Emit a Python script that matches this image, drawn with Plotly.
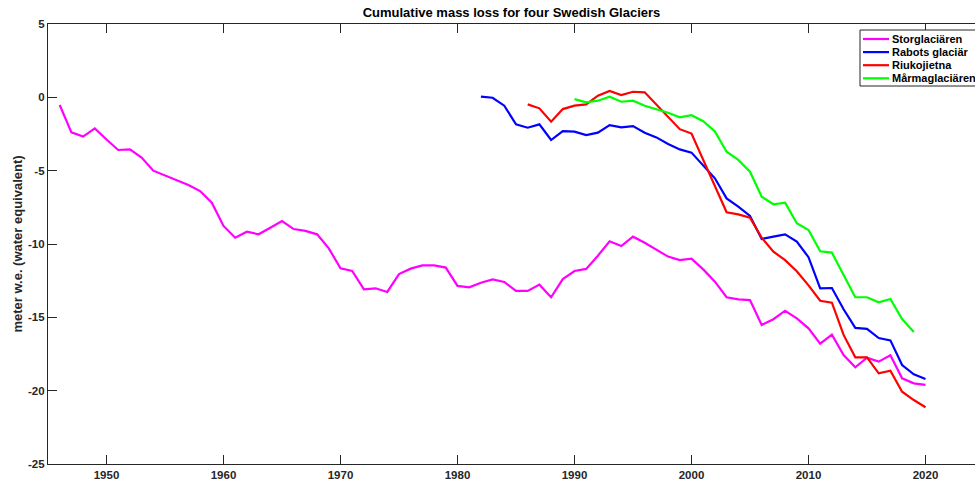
import plotly.graph_objects as go

# Cumulative mass balance (m w.e.) per glacier, by year
stor_years = list(range(1946, 2021))
stor_vals = [
    -0.52, -2.39, -2.68, -2.12, -2.87, -3.59, -3.55, -4.11, -5.00, -5.34,
    -5.64, -5.98, -6.39, -7.18, -8.77, -9.57, -9.16, -9.34, -8.89, -8.43,
    -8.98, -9.11, -9.34, -10.30, -11.66, -11.84, -13.09, -13.02, -13.27, -12.05,
    -11.68, -11.46, -11.46, -11.61, -12.86, -12.95, -12.64, -12.41, -12.59, -13.20,
    -13.20, -12.77, -13.63, -12.39, -11.84, -11.70, -10.80, -9.81, -10.14, -9.50,
    -9.91, -10.36, -10.86, -11.10, -11.00, -11.73, -12.57, -13.63, -13.77, -13.82,
    -15.52, -15.13, -14.55, -15.07, -15.75, -16.80, -16.18, -17.57, -18.41, -17.75,
    -18.02, -17.59, -19.16, -19.50, -19.61,
]

rabots_years = list(range(1982, 2021))
rabots_vals = [
    0.05, -0.03, -0.57, -1.84, -2.07, -1.84, -2.91, -2.30, -2.34, -2.57,
    -2.41, -1.89, -2.05, -1.96, -2.41, -2.73, -3.18, -3.55, -3.77, -4.61,
    -5.52, -6.89, -7.45, -8.09, -9.66, -9.50, -9.34, -9.84, -10.90, -13.02,
    -13.00, -14.45, -15.72, -15.79, -16.41, -16.57, -18.25, -18.88, -19.20,
]

riuko_years = list(range(1986, 2021))
riuko_vals = [
    -0.48, -0.75, -1.66, -0.80, -0.57, -0.48, 0.11, 0.43, 0.16, 0.38,
    0.34, -0.52, -1.32, -2.17, -2.47, -4.27, -6.09, -7.84, -7.98, -8.20,
    -9.57, -10.52, -11.10, -11.86, -12.82, -13.87, -14.00, -16.20, -17.73, -17.73,
    -18.82, -18.64, -20.07, -20.64, -21.13,
]

marma_years = list(range(1990, 2020))
marma_vals = [
    -0.12, -0.34, -0.23, 0.04, -0.30, -0.23, -0.57, -0.80, -1.05, -1.36,
    -1.22, -1.63, -2.32, -3.71, -4.27, -5.07, -6.78, -7.29, -7.18, -8.59,
    -9.05, -10.50, -10.59, -12.11, -13.63, -13.63, -13.98, -13.75, -15.12, -16.00,
]

names = ["Storglaciären", "Rabots glaciär", "Riukojietna", "Mårmaglaciären"]
colors = ["#FF00FF", "#0000FF", "#FF0000", "#00FF00"]
series = [
    (stor_years, stor_vals),
    (rabots_years, rabots_vals),
    (riuko_years, riuko_vals),
    (marma_years, marma_vals),
]

x_ticks = [1950, 1960, 1970, 1980, 1990, 2000, 2010, 2020]
y_ticks = [5, 0, -5, -10, -15, -20, -25]

FONT = "Liberation Sans, Arial, Helvetica, sans-serif"
AXIS_COLOR = "#262626"

W, H = 975, 485
ML, MR, MT, MB = 48, 0, 24, 21
PW, PH = W - ML - MR, H - MT - MB
px_per_year = 11.7


def paper_x(px):
    return (px - ML) / PW


def paper_y(py):
    return 1 - (py - MT) / PH


fig = go.Figure()
for name, color, (xs, ys) in zip(names, colors, series):
    fig.add_trace(go.Scatter(
        x=xs, y=ys, mode="lines", name=name,
        line=dict(color=color, width=2.2),
        showlegend=False,
    ))

# Boxed legend in the upper right corner
shapes = [dict(
    type="rect", xref="paper", yref="paper",
    x0=paper_x(860), x1=paper_x(985), y0=paper_y(86), y1=paper_y(30),
    line=dict(color=AXIS_COLOR, width=1), fillcolor="white", layer="above",
)]
annotations = []
for i, (name, color) in enumerate(zip(names, colors)):
    yy = paper_y(39 + i * 13.1)
    shapes.append(dict(
        type="line", xref="paper", yref="paper",
        x0=paper_x(863), x1=paper_x(889), y0=yy, y1=yy,
        line=dict(color=color, width=2.2), layer="above",
    ))
    annotations.append(dict(
        xref="paper", yref="paper", x=paper_x(890), y=yy,
        xanchor="left", yanchor="middle", showarrow=False,
        text="<b>%s</b>" % name,
        font=dict(family=FONT, size=11, color="black"),
    ))

fig.update_layout(
    width=W, height=H,
    margin=dict(l=ML, r=MR, t=MT, b=MB),
    paper_bgcolor="white", plot_bgcolor="white",
    title=dict(
        text="<b>Cumulative mass loss for four Swedish Glaciers</b>",
        x=0.5, xanchor="center", xref="paper",
        y=1 - 12 / H, yanchor="middle", yref="container",
        font=dict(family=FONT, size=13, color="black"),
    ),
    font=dict(family=FONT, size=11.5, color=AXIS_COLOR),
    shapes=shapes,
    annotations=annotations,
    showlegend=False,
)

fig.update_xaxes(
    range=[1945, 1945 + PW / px_per_year],
    tickvals=x_ticks, ticktext=["<b>%d</b>" % v for v in x_ticks],
    ticks="inside", ticklen=9, tickwidth=1, tickcolor=AXIS_COLOR,
    showline=True, linecolor=AXIS_COLOR, linewidth=1.2, mirror="ticks",
    showgrid=False, zeroline=False,
    tickfont=dict(family=FONT, size=11.5, color=AXIS_COLOR),
)
fig.update_yaxes(
    range=[-25, 5],
    tickvals=y_ticks, ticktext=["<b>%d</b>" % v for v in y_ticks],
    ticks="inside", ticklen=9, tickwidth=1, tickcolor=AXIS_COLOR,
    showline=True, linecolor=AXIS_COLOR, linewidth=1.2, mirror=False,
    showgrid=False, zeroline=False,
    tickfont=dict(family=FONT, size=11.5, color=AXIS_COLOR),
    title=dict(text="<b>meter w.e. (water equivalent)</b>",
               font=dict(family=FONT, size=13, color=AXIS_COLOR), standoff=2),
)

fig.write_html("out.html")
